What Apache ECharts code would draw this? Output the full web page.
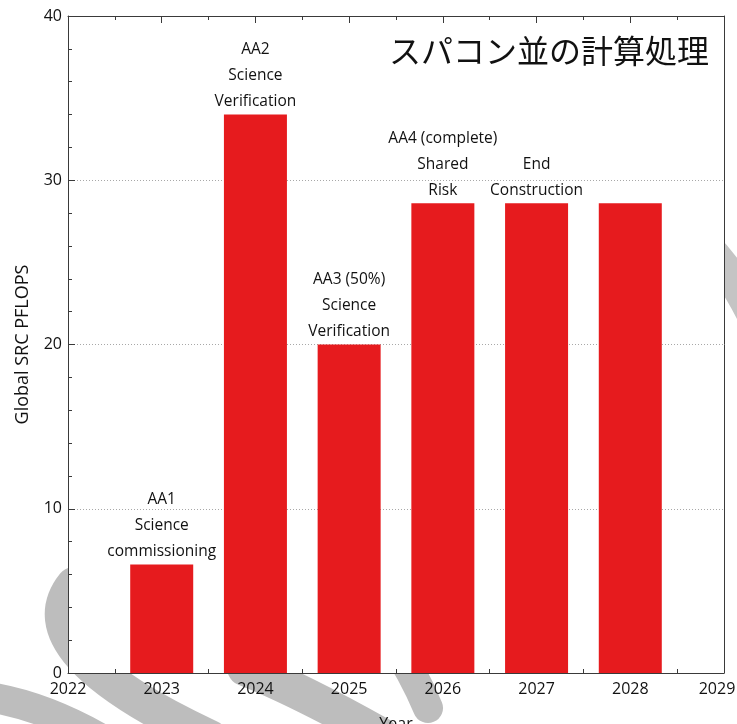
<!DOCTYPE html>
<html>
<head>
<meta charset="utf-8">
<script src="https://cdn.jsdelivr.net/npm/echarts@6/dist/echarts.min.js"></script>
<style>
  html, body { margin: 0; padding: 0; background: #ffffff; }
  #chart { width: 737px; height: 724px; }
</style>
</head>
<body>
<div id="chart"></div>
<script>
// Planned SRC compute capacity per year, with the array-assembly milestone for each year
const years = [2023, 2024, 2025, 2026, 2027, 2028];
const pflops = [6.6, 34, 20, 28.6, 28.6, 28.6];
const milestones = [
  'AA1\nScience\ncommissioning',
  'AA2\nScience\nVerification',
  'AA3 (50%)\nScience\nVerification',
  'AA4 (complete)\nShared\nRisk',
  'End\nConstruction',
  ''
];
const yearTicks = { min: 2022, max: 2029, step: 1 };
const flopsTicks = { min: 0, max: 40, step: 10 };
const chartTitle = 'スパコン並の計算処理';
const xName = 'Year';
const yName = 'Global SRC PFLOPS';

const FONT = '"Open Sans", "Noto Sans", sans-serif';
const AXIS_COLOR = '#3a3a3a';
const BAR_COLOR = '#e61b1e';
const TEXT_COLOR = '#111111';

const chart = echarts.init(document.getElementById('chart'), null, { renderer: 'canvas' });

// grey brush strokes of the slide background, sitting behind the plot panel
const stroke = (x1, y1, cpx1, cpy1, x2, y2, w, c) => ({
  type: 'bezierCurve', z: -5, silent: true,
  shape: { x1, y1, cpx1, cpy1, x2, y2 },
  style: { stroke: c || '#bdbdbd', lineWidth: w, lineCap: 'round', fill: null }
});
const backdrop = [
  stroke(74, 585, 22, 650, 210, 738, 36),
  stroke(-30, 695, 40, 700, 120, 750, 30),
  stroke(245, 668, 300, 690, 380, 735, 36),
  stroke(330, 560, 400, 640, 428, 708, 30),
  stroke(705, 245, 735, 275, 760, 330, 32, '#c4c4c4')
];

const valueAxisBase = {
  type: 'value',
  axisLine: { show: true, onZero: false, lineStyle: { color: AXIS_COLOR, width: 1 } },
  axisTick: { show: true, inside: true, length: 7, lineStyle: { color: AXIS_COLOR } },
  minorTick: { show: true, length: 4, lineStyle: { color: AXIS_COLOR } },
  splitLine: { show: false }
};

chart.setOption({
  backgroundColor: '#ffffff',
  animation: false,
  title: {
    text: chartTitle,
    left: 384, top: 30,
    textStyle: { fontFamily: '"Noto Sans CJK JP", sans-serif', fontSize: 32, fontWeight: 'normal', color: '#111' }
  },
  graphic: backdrop,
  grid: {
    left: 68, right: 13, top: 16, bottom: 51,
    outerBoundsMode: 'none', containLabel: false,
    show: true, backgroundColor: '#ffffff', borderWidth: 0
  },
  xAxis: [
    Object.assign({}, valueAxisBase, {
      position: 'bottom',
      min: yearTicks.min, max: yearTicks.max, interval: yearTicks.step,
      minorTick: Object.assign({}, valueAxisBase.minorTick, { splitNumber: 2 }),
      axisLabel: {
        color: TEXT_COLOR, fontFamily: FONT, fontSize: 16, margin: 8,
        // the last year label is nudged inward so it stays on the canvas
        formatter: v => (v === yearTicks.max ? '{edge|' + v + '}' : String(v)),
        rich: { edge: { color: TEXT_COLOR, fontFamily: FONT, fontSize: 16, padding: [0, 14, 0, 0] } }
      },
      name: xName, nameLocation: 'middle', nameGap: 43,
      nameTextStyle: { color: TEXT_COLOR, fontFamily: FONT, fontSize: 16 }
    }),
    Object.assign({}, valueAxisBase, {
      position: 'top',
      min: yearTicks.min, max: yearTicks.max, interval: yearTicks.step,
      minorTick: Object.assign({}, valueAxisBase.minorTick, { splitNumber: 2 }),
      axisLabel: { show: false }
    })
  ],
  yAxis: [
    Object.assign({}, valueAxisBase, {
      position: 'left',
      min: flopsTicks.min, max: flopsTicks.max, interval: flopsTicks.step,
      minorTick: Object.assign({}, valueAxisBase.minorTick, { splitNumber: 5 }),
      axisLabel: { color: TEXT_COLOR, fontFamily: FONT, fontSize: 16, margin: 6 },
      splitLine: { show: true, lineStyle: { color: '#a8a8a8', type: [1, 2], width: 1 } },
      name: yName, nameLocation: 'middle', nameGap: 36, nameRotate: 90,
      nameTextStyle: { color: TEXT_COLOR, fontFamily: FONT, fontSize: 18 }
    }),
    Object.assign({}, valueAxisBase, {
      position: 'right',
      min: flopsTicks.min, max: flopsTicks.max, interval: flopsTicks.step,
      axisTick: { show: false },
      minorTick: { show: false },
      axisLabel: { show: false }
    })
  ],
  series: [{
    type: 'bar',
    xAxisIndex: 0, yAxisIndex: 0,
    barWidth: 63,
    data: years.map((y, i) => [y, pflops[i]]),
    itemStyle: { color: BAR_COLOR },
    label: {
      show: true, position: 'top', distance: 0,
      formatter: p => milestones[p.dataIndex],
      color: TEXT_COLOR, fontFamily: FONT, fontSize: 15.5, lineHeight: 26, align: 'center'
    },
    z: 3
  }]
});
</script>
</body>
</html>
